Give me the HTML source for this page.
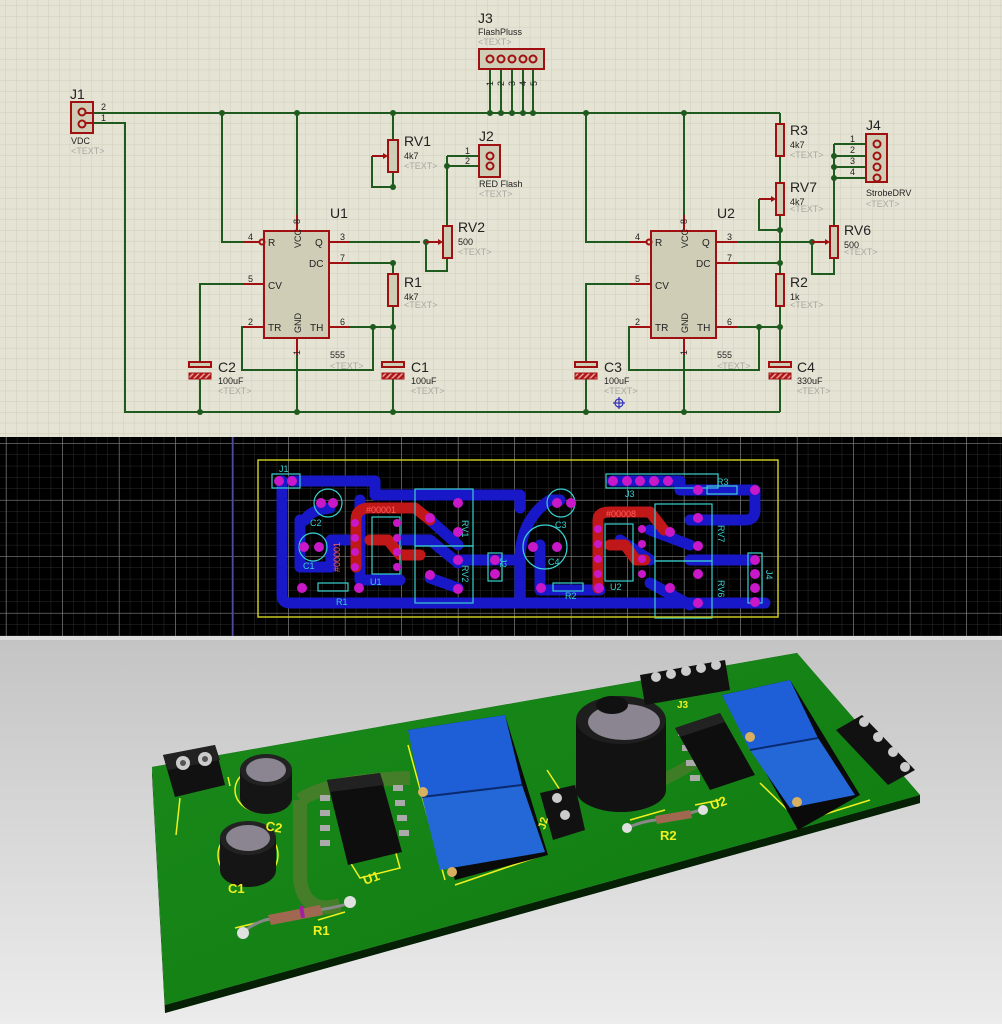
<!DOCTYPE html>
<html><head><meta charset="utf-8"><style>
html,body{margin:0;padding:0;width:1002px;height:1024px;overflow:hidden;background:#ddd}
svg{display:block}
text{font-family:"Liberation Sans",sans-serif}
</style></head><body>
<svg width="1002" height="1024" viewBox="0 0 1002 1024" xmlns="http://www.w3.org/2000/svg">
<defs>
<pattern id="sg" width="10.7" height="10.7" patternUnits="userSpaceOnUse" x="6" y="6">
<path d="M10.7 0V10.7H0" fill="none" stroke="#cfcdbb" stroke-width="1"/></pattern>
<pattern id="pgm" width="11.3" height="11.3" patternUnits="userSpaceOnUse" x="6" y="3">
<path d="M11.3 0V11.3H0" fill="none" stroke="#2c2c2c" stroke-width="1"/></pattern>
<pattern id="pgM" width="56.5" height="56.5" patternUnits="userSpaceOnUse" x="6.5" y="-8">
<path d="M56.5 0V56.5H0" fill="none" stroke="#8a8a8a" stroke-width="1"/></pattern>
<pattern id="hatch" width="4" height="4" patternUnits="userSpaceOnUse" patternTransform="rotate(45)">
<rect width="4" height="4" fill="#b01818"/><rect width="1.5" height="4" fill="#e8a0a0"/></pattern>
<linearGradient id="bg3" x1="0" y1="0" x2="0" y2="1"><stop offset="0" stop-color="#c4c4c4"/><stop offset="1" stop-color="#ececec"/></linearGradient>
<linearGradient id="brd" x1="0" y1="0" x2="1" y2="1"><stop offset="0" stop-color="#1a8a1a"/><stop offset="1" stop-color="#0f7a10"/></linearGradient>
</defs>

<!-- ===== schematic ===== -->
<rect x="0" y="0" width="1002" height="437" fill="#e5e4d4"/>
<rect x="0" y="0" width="1002" height="437" fill="url(#sg)"/>
<g stroke="#1f5a1f" stroke-width="2" fill="none">
<path d="M93 113H780"/>
<path d="M93 123H125V412H780"/>
<path d="M222 113V242H243"/>
<path d="M297 113V215"/>
<path d="M297 338V412"/>
<path d="M393 113V140M393 172V187M393 263V274M393 306V362M393 379V412"/>
<path d="M372 156V187H393"/>
<path d="M329 242H420"/>
<path d="M329 263H393"/>
<path d="M329 327H393"/>
<path d="M264 284H200V362M200 379V412"/>
<path d="M264 327H242V370H373V327"/>
<path d="M447 156V226M447 258V271H426V242"/>
<path d="M447 156H480M447 166H480"/>
<path d="M490 69V113M501 69V113M512 69V113M523 69V113M533 69V113"/>
<path d="M586 113V242H630"/>
<path d="M684 113V215"/>
<path d="M684 338V412"/>
<path d="M780 113V124M780 156V183M780 215V274M780 306V362M780 379V412"/>
<path d="M759 199V230H780"/>
<path d="M716 242H812"/>
<path d="M716 263H780"/>
<path d="M716 327H780"/>
<path d="M651 284H586V362M586 379V412"/>
<path d="M651 327H629V370H759V327"/>
<path d="M834 144V226M834 258V274H812V242"/>
<path d="M834 144H866M834 156H866M834 167H866M834 178H866"/>
</g>
<g fill="#1f5a1f">
<circle cx="222" cy="113" r="3"/><circle cx="297" cy="113" r="3"/><circle cx="393" cy="113" r="3"/>
<circle cx="393" cy="187" r="3"/><circle cx="393" cy="263" r="3"/><circle cx="393" cy="327" r="3"/><circle cx="373" cy="327" r="3"/>
<circle cx="447" cy="166" r="3"/><circle cx="426" cy="242" r="3"/>
<circle cx="490" cy="113" r="3"/><circle cx="501" cy="113" r="3"/><circle cx="512" cy="113" r="3"/><circle cx="523" cy="113" r="3"/><circle cx="533" cy="113" r="3"/>
<circle cx="586" cy="113" r="3"/><circle cx="684" cy="113" r="3"/>
<circle cx="780" cy="230" r="3"/><circle cx="780" cy="263" r="3"/><circle cx="780" cy="327" r="3"/><circle cx="759" cy="327" r="3"/>
<circle cx="812" cy="242" r="3"/><circle cx="834" cy="156" r="3"/><circle cx="834" cy="167" r="3"/><circle cx="834" cy="178" r="3"/>
<circle cx="200" cy="412" r="3"/><circle cx="297" cy="412" r="3"/><circle cx="393" cy="412" r="3"/><circle cx="586" cy="412" r="3"/><circle cx="684" cy="412" r="3"/>
</g>
<g stroke="#a01010" stroke-width="2" fill="#cfcdb6">
<rect x="71" y="102" width="22" height="31"/>
<rect x="479" y="49" width="65" height="20"/>
<rect x="479" y="145" width="21" height="32"/>
<rect x="866" y="134" width="21" height="48"/>
<rect x="264" y="231" width="65" height="107"/>
<rect x="651" y="231" width="65" height="107"/>
<rect x="388" y="140" width="10" height="32"/>
<rect x="388" y="274" width="10" height="32"/>
<rect x="443" y="226" width="9" height="32"/>
<rect x="776" y="124" width="8" height="32"/>
<rect x="776" y="183" width="8" height="32"/>
<rect x="776" y="274" width="8" height="32"/>
<rect x="830" y="226" width="8" height="32"/>
<rect x="189" y="362" width="22" height="5"/><rect x="382" y="362" width="22" height="5"/>
<rect x="575" y="362" width="22" height="5"/><rect x="769" y="362" width="22" height="5"/>
</g>
<g fill="url(#hatch)" stroke="#a01010" stroke-width="1">
<rect x="189" y="373" width="22" height="6"/><rect x="382" y="373" width="22" height="6"/>
<rect x="575" y="373" width="22" height="6"/><rect x="769" y="373" width="22" height="6"/>
</g>
<g stroke="#a01010" stroke-width="2" fill="none">
<circle cx="82" cy="112" r="3.5"/><circle cx="82" cy="124" r="3.5"/>
<circle cx="490" cy="59" r="3.5"/><circle cx="501" cy="59" r="3.5"/><circle cx="512" cy="59" r="3.5"/><circle cx="523" cy="59" r="3.5"/><circle cx="533" cy="59" r="3.5"/>
<circle cx="490" cy="156" r="3.5"/><circle cx="490" cy="166" r="3.5"/>
<circle cx="877" cy="144" r="3.5"/><circle cx="877" cy="156" r="3.5"/><circle cx="877" cy="167" r="3.5"/><circle cx="877" cy="178" r="3.5"/>
<path d="M85 113H93M85 123H93"/>
<path d="M243 242H260M297 215V231M329 242H350M329 263H350M243 284H264M243 327H264M329 327H350M297 338V355"/>
<path d="M630 242H647M684 215V231M716 242H737M716 263H737M630 284H651M630 327H651M716 327H737M684 338V355"/>
<circle cx="262" cy="242" r="2.5"/><circle cx="649" cy="242" r="2.5"/>
<path d="M372 156H386M426 242H441M759 199H774M812 242H828"/>
</g>
<g fill="#a01010"><path d="M388 156l-5-3v6z"/><path d="M443 242l-5-3v6z"/><path d="M776 199l-5-3v6z"/><path d="M830 242l-5-3v6z"/></g>
<g font-size="12" fill="#222">
<text x="70" y="99" font-size="14">J1</text><text x="71" y="144" font-size="9">VDC</text>
<text x="101" y="110" font-size="9">2</text><text x="101" y="121" font-size="9">1</text>
<text x="478" y="23" font-size="14">J3</text><text x="478" y="35" font-size="9">FlashPluss</text>
<text x="479" y="141" font-size="14">J2</text><text x="479" y="187" font-size="9">RED Flash</text>
<text x="465" y="154" font-size="9">1</text><text x="465" y="164" font-size="9">2</text>
<text x="866" y="130" font-size="14">J4</text><text x="866" y="196" font-size="9">StrobeDRV</text>
<text x="850" y="142" font-size="9">1</text><text x="850" y="153" font-size="9">2</text><text x="850" y="164" font-size="9">3</text><text x="850" y="175" font-size="9">4</text>
<text x="404" y="146" font-size="14">RV1</text><text x="404" y="159" font-size="9">4k7</text>
<text x="404" y="287" font-size="14">R1</text><text x="404" y="300" font-size="9">4k7</text>
<text x="458" y="232" font-size="14">RV2</text><text x="458" y="245" font-size="9">500</text>
<text x="790" y="135" font-size="14">R3</text><text x="790" y="148" font-size="9">4k7</text>
<text x="790" y="192" font-size="14">RV7</text><text x="790" y="205" font-size="9">4k7</text>
<text x="790" y="287" font-size="14">R2</text><text x="790" y="300" font-size="9">1k</text>
<text x="844" y="235" font-size="14">RV6</text><text x="844" y="248" font-size="9">500</text>
<text x="330" y="218" font-size="14">U1</text><text x="717" y="218" font-size="14">U2</text>
<text x="218" y="372" font-size="14">C2</text><text x="218" y="384" font-size="9">100uF</text>
<text x="411" y="372" font-size="14">C1</text><text x="411" y="384" font-size="9">100uF</text>
<text x="604" y="372" font-size="14">C3</text><text x="604" y="384" font-size="9">100uF</text>
<text x="797" y="372" font-size="14">C4</text><text x="797" y="384" font-size="9">330uF</text>
<text x="330" y="358" font-size="9">555</text><text x="717" y="358" font-size="9">555</text>
<g font-size="9"><text x="248" y="240">4</text><text x="248" y="282">5</text><text x="248" y="325">2</text><text x="340" y="240">3</text><text x="340" y="261">7</text><text x="340" y="325">6</text>
<text x="635" y="240">4</text><text x="635" y="282">5</text><text x="635" y="325">2</text><text x="727" y="240">3</text><text x="727" y="261">7</text><text x="727" y="325">6</text></g>
<g font-size="10"><text x="268" y="246">R</text><text x="268" y="289">CV</text><text x="268" y="331">TR</text><text x="315" y="246">Q</text><text x="309" y="267">DC</text><text x="310" y="331">TH</text>
<text x="655" y="246">R</text><text x="655" y="289">CV</text><text x="655" y="331">TR</text><text x="702" y="246">Q</text><text x="696" y="267">DC</text><text x="697" y="331">TH</text></g>
</g>
<g font-size="9" fill="#222">
<text transform="translate(301,248) rotate(-90)">VCC</text><text transform="translate(301,333) rotate(-90)">GND</text>
<text transform="translate(688,248) rotate(-90)">VCC</text><text transform="translate(688,333) rotate(-90)">GND</text>
<text transform="translate(300,224) rotate(-90)">8</text><text transform="translate(300,355) rotate(-90)">1</text>
<text transform="translate(687,224) rotate(-90)">8</text><text transform="translate(687,355) rotate(-90)">1</text>
<text transform="translate(493,86) rotate(-90)">1</text><text transform="translate(504,86) rotate(-90)">2</text><text transform="translate(515,86) rotate(-90)">3</text><text transform="translate(526,86) rotate(-90)">4</text><text transform="translate(537,86) rotate(-90)">5</text>
</g>
<g font-size="9" fill="#a8a8a0">
<text x="71" y="154">&lt;TEXT&gt;</text><text x="478" y="45">&lt;TEXT&gt;</text><text x="479" y="197">&lt;TEXT&gt;</text><text x="866" y="207">&lt;TEXT&gt;</text>
<text x="404" y="169">&lt;TEXT&gt;</text><text x="404" y="308">&lt;TEXT&gt;</text><text x="458" y="255">&lt;TEXT&gt;</text>
<text x="790" y="158">&lt;TEXT&gt;</text><text x="790" y="212">&lt;TEXT&gt;</text><text x="790" y="308">&lt;TEXT&gt;</text><text x="844" y="255">&lt;TEXT&gt;</text>
<text x="218" y="394">&lt;TEXT&gt;</text><text x="411" y="394">&lt;TEXT&gt;</text><text x="604" y="394">&lt;TEXT&gt;</text><text x="797" y="394">&lt;TEXT&gt;</text>
<text x="330" y="369">&lt;TEXT&gt;</text><text x="717" y="369">&lt;TEXT&gt;</text>
</g>
<g stroke="#3030c0" stroke-width="1.2" fill="none"><circle cx="619" cy="403" r="4"/><path d="M613 403H625M619 397V409"/></g>

<!-- ===== PCB ===== -->
<rect x="0" y="437" width="1002" height="199" fill="#000"/>
<rect x="0" y="437" width="1002" height="199" fill="url(#pgm)"/>
<rect x="0" y="437" width="1002" height="199" fill="url(#pgM)"/>
<path d="M233 437V636" stroke="#3838a0" stroke-width="1.5"/>
<rect x="0" y="636" width="1002" height="4" fill="#ddd"/>
<g stroke="#1818c8" stroke-width="11" fill="none" stroke-linecap="round" stroke-linejoin="round">
<path d="M282 481V595Q282 603 290 603H765"/>
<path d="M292 481H375V495H520V508"/>
<path d="M300 520V567H331"/>
<path d="M305 520Q310 510 330 508"/>
<path d="M331 567V540H351"/>
<path d="M360 500V580H400"/>
<path d="M400 540H430L458 563"/>
<path d="M430 520L458 545"/>
<path d="M430 578L458 588"/>
<path d="M458 560H520V600"/>
<path d="M520 560Q520 520 550 500H560"/>
<path d="M540 545V590H600"/>
<path d="M612 481H680V490H720"/>
<path d="M690 490H755V510Q755 520 745 520H690"/>
<path d="M650 530L690 545"/>
<path d="M690 560H750"/>
<path d="M650 583L690 605"/>
<path d="M620 540L650 560"/>
</g>
<g stroke="#c01818" stroke-width="11" fill="none" stroke-linecap="round" stroke-linejoin="round">
<path d="M356 567V520Q356 508 370 508H415L430 520"/>
<path d="M370 540H388L400 555H420"/>
<path d="M598 588V520Q598 512 610 512H650L664 530"/>
<path d="M610 545H625L636 560H645"/>
</g>
<g stroke="#3ad0d0" stroke-width="1.2" fill="none">
<rect x="272" y="474" width="28" height="14"/><rect x="606" y="474" width="112" height="14"/>
<rect x="488" y="553" width="14" height="28"/><rect x="748" y="553" width="14" height="50"/>
<rect x="415" y="489" width="58" height="57"/><rect x="415" y="546" width="58" height="57"/>
<rect x="655" y="504" width="57" height="57"/><rect x="655" y="561" width="57" height="57"/>
<rect x="372" y="517" width="28" height="57"/><rect x="605" y="524" width="28" height="57"/>
<circle cx="328" cy="503" r="14"/><circle cx="313" cy="547" r="14"/>
<circle cx="561" cy="503" r="14"/><circle cx="545" cy="547" r="22"/>
<rect x="318" y="583" width="30" height="8"/><rect x="553" y="583" width="30" height="8"/>
<rect x="707" y="486" width="30" height="8"/>
</g>
<rect x="258" y="460" width="520" height="157" fill="none" stroke="#c8c820" stroke-width="1.5"/>
<g fill="#c818c8">
<circle cx="279" cy="481" r="5"/><circle cx="292" cy="481" r="5"/>
<circle cx="321" cy="503" r="5"/><circle cx="333" cy="503" r="5"/>
<circle cx="304" cy="547" r="5"/><circle cx="319" cy="547" r="5"/>
<circle cx="302" cy="588" r="5"/><circle cx="359" cy="588" r="5"/>
<circle cx="355" cy="523" r="4"/><circle cx="355" cy="538" r="4"/><circle cx="355" cy="552" r="4"/><circle cx="355" cy="567" r="4"/>
<circle cx="397" cy="523" r="4"/><circle cx="397" cy="538" r="4"/><circle cx="397" cy="552" r="4"/><circle cx="397" cy="567" r="4"/>
<circle cx="458" cy="503" r="5"/><circle cx="430" cy="518" r="5"/><circle cx="458" cy="532" r="5"/>
<circle cx="458" cy="560" r="5"/><circle cx="430" cy="575" r="5"/><circle cx="458" cy="589" r="5"/>
<circle cx="495" cy="560" r="5"/><circle cx="495" cy="574" r="5"/>
<circle cx="557" cy="503" r="5"/><circle cx="571" cy="503" r="5"/>
<circle cx="533" cy="547" r="5"/><circle cx="557" cy="547" r="5"/>
<circle cx="541" cy="588" r="5"/><circle cx="599" cy="588" r="5"/>
<circle cx="598" cy="529" r="4"/><circle cx="598" cy="544" r="4"/><circle cx="598" cy="559" r="4"/><circle cx="598" cy="574" r="4"/>
<circle cx="642" cy="529" r="4"/><circle cx="642" cy="544" r="4"/><circle cx="642" cy="559" r="4"/><circle cx="642" cy="574" r="4"/>
<circle cx="613" cy="481" r="5"/><circle cx="627" cy="481" r="5"/><circle cx="640" cy="481" r="5"/><circle cx="654" cy="481" r="5"/><circle cx="668" cy="481" r="5"/>
<circle cx="698" cy="490" r="5"/><circle cx="755" cy="490" r="5"/>
<circle cx="698" cy="518" r="5"/><circle cx="670" cy="532" r="5"/><circle cx="698" cy="546" r="5"/>
<circle cx="698" cy="574" r="5"/><circle cx="670" cy="588" r="5"/><circle cx="698" cy="603" r="5"/>
<circle cx="755" cy="560" r="5"/><circle cx="755" cy="574" r="5"/><circle cx="755" cy="588" r="5"/><circle cx="755" cy="602" r="5"/>
</g>
<g fill="#3ad0d0" font-size="9">
<text x="279" y="472">J1</text><text x="625" y="497">J3</text><text x="310" y="526">C2</text><text x="303" y="569">C1</text>
<text x="555" y="528">C3</text><text x="548" y="565">C4</text><text x="336" y="605">R1</text><text x="565" y="599">R2</text><text x="717" y="485">R3</text>
<text x="370" y="585">U1</text><text x="610" y="590">U2</text>
<text transform="translate(462,520) rotate(90)">RV1</text><text transform="translate(462,565) rotate(90)">RV2</text>
<text transform="translate(500,558) rotate(90)">J2</text><text transform="translate(718,525) rotate(90)">RV7</text>
<text transform="translate(718,580) rotate(90)">RV6</text><text transform="translate(766,570) rotate(90)">J4</text>
</g>
<g fill="#ff6060" font-size="9"><text x="366" y="513">#00001</text><text x="606" y="517">#00008</text>
<text transform="translate(340,572) rotate(-90)">#00001</text></g>

<!-- ===== 3D ===== -->
<rect x="0" y="640" width="1002" height="384" fill="url(#bg3)"/>
<polygon points="152,767 797,653 920,795 165,1005 165,1013 920,803" fill="#0a2a0a"/>
<polygon points="152,767 152,775 165,1013 165,1005" fill="#0a3a0a"/>
<polygon points="165,1005 920,795 920,803 165,1013" fill="#052005"/>
<polygon points="152,767 797,653 920,795 165,1005" fill="url(#brd)"/>
<path d="M300 800Q330 780 410 778M300 800V880Q305 915 340 905" stroke="#5a7a30" stroke-width="14" fill="none" opacity=".7"/>
<path d="M645 790L700 760" stroke="#5a7a30" stroke-width="12" fill="none" opacity=".6"/>
<g stroke="#f0f020" stroke-width="1.5" fill="none">
<path d="M180 798L176 835M228 777L230 786"/>
<ellipse cx="261" cy="790" rx="26" ry="22"/><ellipse cx="248" cy="855" rx="30" ry="26"/>
<path d="M408 745L445 880M455 885L543 855M547 770L560 790"/>
<path d="M235 928L260 922M318 920L345 912"/>
<path d="M630 820L665 810M695 805L720 800M760 783L800 822L870 800"/>
<path d="M350 862L360 878L400 868L395 850"/>
</g>
<polygon points="163,755 215,745 225,785 175,797" fill="#111"/>
<polygon points="163,755 215,745 220,760 168,770" fill="#222"/>
<circle cx="183" cy="763" r="7" fill="#ccc"/><circle cx="205" cy="759" r="7" fill="#ccc"/>
<circle cx="183" cy="763" r="3" fill="#555"/><circle cx="205" cy="759" r="3" fill="#555"/>
<g><rect x="240" y="770" width="52" height="28" fill="#151515"/><ellipse cx="266" cy="798" rx="26" ry="16" fill="#151515"/><ellipse cx="266" cy="770" rx="26" ry="16" fill="#222"/><ellipse cx="266" cy="770" rx="20" ry="12" fill="#8a8590"/></g>
<g><rect x="220" y="838" width="56" height="32" fill="#151515"/><ellipse cx="248" cy="870" rx="28" ry="17" fill="#151515"/><ellipse cx="248" cy="838" rx="28" ry="17" fill="#222"/><ellipse cx="248" cy="838" rx="22" ry="13" fill="#8a8590"/></g>
<g><rect x="576" y="720" width="90" height="70" fill="#121212"/><ellipse cx="621" cy="790" rx="45" ry="22" fill="#121212"/><ellipse cx="621" cy="720" rx="45" ry="24" fill="#1e1e1e"/><ellipse cx="624" cy="722" rx="36" ry="18" fill="#8a8590"/></g>
<ellipse cx="612" cy="705" rx="16" ry="9" fill="#111"/>
<g fill="#aaa"><rect x="320" y="795" width="10" height="6"/><rect x="320" y="810" width="10" height="6"/><rect x="320" y="825" width="10" height="6"/><rect x="320" y="840" width="10" height="6"/>
<rect x="393" y="785" width="10" height="6"/><rect x="395" y="800" width="10" height="6"/><rect x="397" y="815" width="10" height="6"/><rect x="399" y="830" width="10" height="6"/></g>
<polygon points="327,780 380,773 402,852 348,865" fill="#0e0e0e"/>
<polygon points="327,780 380,773 384,785 330,792" fill="#222"/>
<g fill="#aaa"><rect x="678" y="730" width="10" height="6"/><rect x="682" y="745" width="10" height="6"/><rect x="686" y="760" width="10" height="6"/><rect x="690" y="775" width="10" height="6"/></g>
<polygon points="675,728 720,713 755,775 710,790" fill="#0e0e0e"/>
<polygon points="675,728 720,713 725,722 680,737" fill="#222"/>
<polygon points="408,730 505,715 548,855 455,880" fill="#0a0a0a"/>
<polygon points="408,730 505,715 522,785 422,797" fill="#1e5fd8"/>
<polygon points="422,797 522,785 545,852 440,870" fill="#2468d8"/>
<path d="M422 797L522 785" stroke="#0a2a70" stroke-width="2"/>
<circle cx="423" cy="792" r="5" fill="#d8b060"/><circle cx="452" cy="872" r="5" fill="#d8b060"/>
<polygon points="722,695 790,680 860,795 798,830" fill="#0a0a0a"/>
<polygon points="722,695 790,680 818,738 750,750" fill="#1e5fd8"/>
<polygon points="750,750 818,738 855,795 790,808" fill="#2468d8"/>
<path d="M750 750L818 738" stroke="#0a2a70" stroke-width="2"/>
<circle cx="750" cy="737" r="5" fill="#d8b060"/><circle cx="797" cy="802" r="5" fill="#d8b060"/>
<polygon points="640,675 725,660 730,690 645,705" fill="#111"/>
<g fill="#ccc"><circle cx="656" cy="677" r="5"/><circle cx="671" cy="674" r="5"/><circle cx="686" cy="671" r="5"/><circle cx="701" cy="668" r="5"/><circle cx="716" cy="665" r="5"/></g>
<polygon points="836,730 862,715 915,770 888,785" fill="#111"/>
<g fill="#ccc"><circle cx="864" cy="722" r="5"/><circle cx="878" cy="737" r="5"/><circle cx="893" cy="752" r="5"/><circle cx="905" cy="767" r="5"/></g>
<polygon points="540,793 575,785 585,830 553,840" fill="#111"/>
<circle cx="557" cy="798" r="5" fill="#ccc"/><circle cx="565" cy="815" r="5" fill="#ccc"/>
<path d="M243 933Q250 925 265 920L330 908Q345 905 350 903" stroke="#888" stroke-width="3" fill="none"/>
<polygon points="268,915 320,905 323,915 271,925" fill="#a06850"/>
<rect x="300" y="906" width="4" height="12" fill="#a020a0" transform="rotate(-10 302 912)"/>
<path d="M627 828Q640 822 655 820L690 813Q700 810 703 810" stroke="#888" stroke-width="3" fill="none"/>
<polygon points="655,816 690,810 692,818 657,824" fill="#a06850"/>
<g fill="#e0e0e0"><circle cx="243" cy="933" r="6"/><circle cx="350" cy="902" r="6"/><circle cx="627" cy="828" r="5"/><circle cx="703" cy="810" r="5"/></g>
<g fill="#f0f020" font-size="13" font-weight="bold">
<text x="313" y="935">R1</text><text x="228" y="893">C1</text><text x="265" y="830" transform="rotate(10 265 830)">C2</text>
<text x="365" y="885" transform="rotate(-20 365 885)">U1</text><text x="660" y="840">R2</text>
<text x="712" y="810" transform="rotate(-20 712 810)">U2</text><text x="677" y="708" font-size="10">J3</text>
<text x="545" y="830" transform="rotate(-75 545 830)" font-size="11">J2</text>
</g>
</svg>
</body></html>
